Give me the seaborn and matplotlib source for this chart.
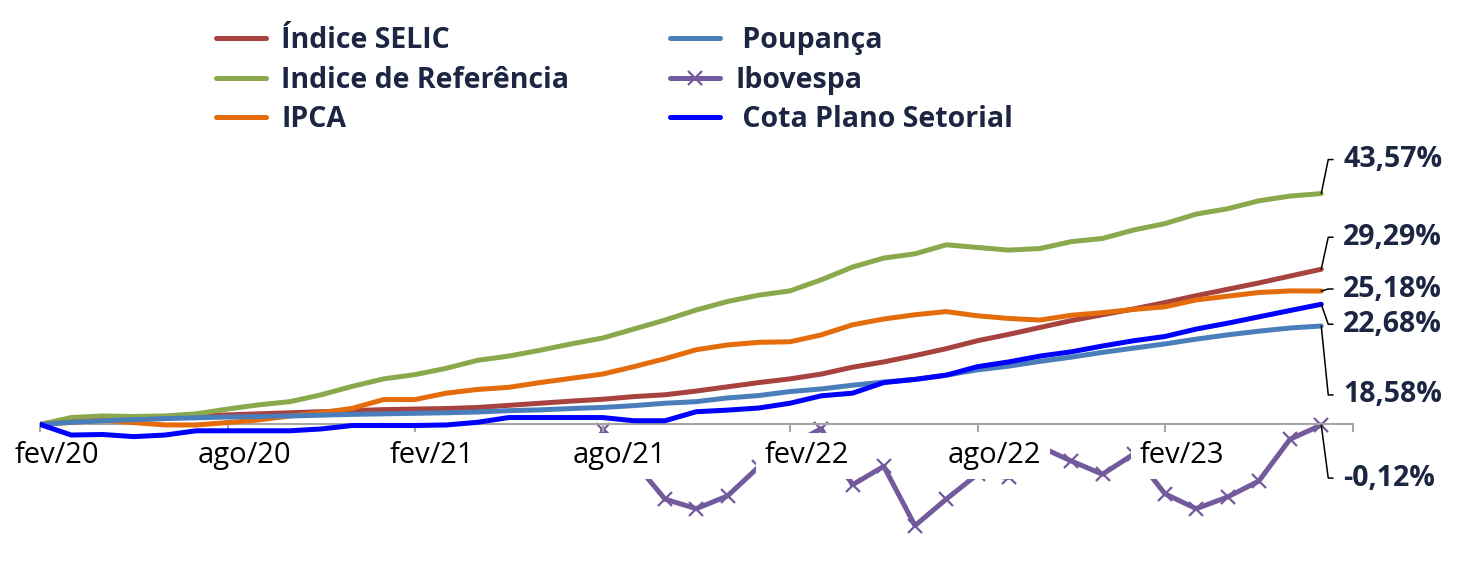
import math
import numpy as np
import pandas as pd
import matplotlib
matplotlib.use("Agg")
import matplotlib.pyplot as plt
from matplotlib.transforms import ScaledTranslation
import seaborn as sns

# ---------------- data ----------------
months = list(range(42))  # fev/20 .. jul/23
tick_pos = [0, 6, 12, 18, 24, 30, 36, 42]
tick_labels = ["fev/20", "ago/20", "fev/21", "ago/21", "fev/22", "ago/22", "fev/23", ""]

selic = [0.0, 0.5, 0.85, 1.2, 1.4, 1.6, 1.8, 2.0, 2.2, 2.4, 2.6, 2.8, 2.9, 3.0,
         3.2, 3.6, 4.0, 4.4, 4.75, 5.25, 5.6, 6.3, 7.1, 7.9, 8.6, 9.5, 10.8, 11.8,
         13.0, 14.3, 15.8, 17.0, 18.3, 19.6, 20.7, 21.8, 23.0, 24.3, 25.5, 26.7, 28.0, 29.29]
referencia = [0.0, 1.3, 1.6, 1.5, 1.6, 2.0, 2.9, 3.7, 4.3, 5.6, 7.2, 8.6, 9.4, 10.6,
              12.1, 12.9, 14.0, 15.2, 16.3, 18.0, 19.7, 21.6, 23.2, 24.4, 25.2, 27.3, 29.7, 31.4,
              32.2, 33.9, 33.4, 32.9, 33.2, 34.5, 35.1, 36.7, 37.9, 39.7, 40.7, 42.2, 43.1, 43.57]
ipca = [0.0, 0.4, 0.8, 0.35, -0.1, -0.1, 0.35, 0.85, 1.6, 2.2, 3.05, 4.7, 4.7, 5.9,
        6.6, 7.0, 7.9, 8.7, 9.5, 10.9, 12.4, 14.1, 15.0, 15.5, 15.6, 16.9, 18.8, 19.9,
        20.7, 21.3, 20.5, 20.0, 19.7, 20.6, 21.1, 21.7, 22.2, 23.5, 24.2, 24.9, 25.2, 25.18]
poupanca = [0.0, 0.4, 0.7, 0.9, 1.1, 1.25, 1.4, 1.5, 1.6, 1.75, 1.9, 2.0, 2.1, 2.2,
            2.35, 2.6, 2.75, 3.0, 3.2, 3.55, 4.0, 4.3, 5.0, 5.45, 6.2, 6.7, 7.4, 8.0,
            8.5, 9.3, 10.3, 11.0, 11.9, 12.7, 13.6, 14.4, 15.2, 16.1, 16.9, 17.6, 18.2, 18.58]
# Ibovespa: not visible before ago/21 in the reference -> left empty
ibovespa = [None] * 18 + [-1.0, -7.0, -14.1, -15.9, -13.5, -8.0, -4.0, -0.8, -11.4, -7.9,
                          -19.1, -14.1, -9.4, -10.0, -4.2, -6.9, -9.4, -5.6, -13.1, -15.9,
                          -13.7, -10.7, -2.8, -0.12]
cota = [0.0, -2.0, -1.9, -2.3, -2.0, -1.2, -1.2, -1.2, -1.2, -0.85, -0.2, -0.2, -0.2, -0.1,
        0.4, 1.3, 1.3, 1.3, 1.3, 0.7, 0.7, 2.4, 2.7, 3.1, 4.0, 5.4, 5.9, 7.9,
        8.5, 9.3, 10.9, 11.8, 12.9, 13.7, 14.8, 15.8, 16.6, 18.0, 19.1, 20.3, 21.5, 22.68]

series_names = ["Índice SELIC", "Indice de Referência", "IPCA",
                " Poupança", "Ibovespa", " Cota Plano Setorial"]
series_values = [selic, referencia, ipca, poupanca, ibovespa, cota]
colors = ["#A8423F", "#8AA84C", "#E46C0A", "#4A7EBB", "#735A9C", "#0000FF"]
# label offsets (pixels) of the end-value labels relative to the line end
label_dy_px = [32, 34, 2, -69, -53, -20]

TXT = "#1C2541"

# ---------------- figure ----------------
sns.set_theme(style="white")
plt.rcParams["font.family"] = ["Open Sans", "DejaVu Sans"]

W, H = 1457, 580
fig = plt.figure(figsize=(W / 100, H / 100), dpi=100)
fig.patch.set_facecolor("white")
ax = fig.add_axes([40 / W, 1 - 541 / H, (1352.5 - 40) / W, (541 - 180.7) / H])
ax.set_facecolor("white")

for name, vals, col in zip(series_names, series_values, colors):
    df = pd.DataFrame({"mes": months, "valor": pd.array(vals, dtype="Float64")})
    df = df.dropna().astype({"valor": float})
    n_before = len(ax.lines)
    if name == "Ibovespa":
        sns.lineplot(data=df, x="mes", y="valor", ax=ax, color=col, lw=3.6,
                     marker="x", markersize=10, markeredgewidth=1.6,
                     markeredgecolor=col, label=name,
                     solid_capstyle="round", solid_joinstyle="round")
        z = 1.0
    else:
        sns.lineplot(data=df, x="mes", y="valor", ax=ax, color=col, lw=3.6,
                     label=name,
                     solid_capstyle="round", solid_joinstyle="round")
        z = 3.0
    for ln in ax.lines[n_before:]:
        ln.set_zorder(z)

ax.set_xlim(0, 42)
ax.set_ylim(-22, 46)
ax.set_xlabel("")
ax.set_ylabel("")
ax.set_yticks([])

for s in ["left", "top", "right"]:
    ax.spines[s].set_visible(False)
ax.spines["bottom"].set_position(("data", 0))
ax.spines["bottom"].set_color("#A6A6A6")
ax.spines["bottom"].set_linewidth(1.5)
ax.spines["bottom"].set_zorder(2.5)
ax.xaxis.set_zorder(2.5)

ax.set_xticks(tick_pos)
ax.set_xticklabels(tick_labels, fontsize=21, color="black")
ax.tick_params(axis="x", direction="out", length=6, width=1.5,
               color="#A6A6A6", pad=6, bottom=True)
shift = ScaledTranslation(17 / 100, 0, fig.dpi_scale_trans)
for lbl in ax.get_xticklabels():
    lbl.set_bbox(dict(facecolor="white", edgecolor="none", pad=6))
    lbl.set_transform(lbl.get_transform() + shift)

# end-value labels with leader lines
for vals, dy in zip(series_values, label_dy_px):
    v = vals[-1]
    txt = f"{v:.2f}%".replace(".", ",")
    angB = math.degrees(math.atan2(dy, 7))
    ax.annotate(txt, xy=(months[-1], v), xycoords="data",
                xytext=(22 * 0.72, dy * 0.72), textcoords="offset points",
                ha="left", va="center", fontsize=20.5, fontweight="bold",
                color=TXT, annotation_clip=False, zorder=4,
                arrowprops=dict(arrowstyle="-", color="black", lw=1.1,
                                connectionstyle=f"angle,angleA=0,angleB={angB},rad=0",
                                shrinkA=5, shrinkB=0, relpos=(0, 0.5)))

handles, labels = ax.get_legend_handles_labels()
if ax.legend_:
    ax.legend_.remove()
leg = fig.legend(handles, labels, ncol=2, loc="upper left",
                 bbox_to_anchor=(216 / W, 1 - 26 / H), frameon=False,
                 borderpad=0, borderaxespad=0, handlelength=1.75,
                 handletextpad=0.55, labelspacing=0.37, columnspacing=3.53,
                 prop={"family": "Open Sans", "weight": "bold", "size": 20.5})
for t in leg.get_texts():
    t.set_color(TXT)

fig.savefig("out.png", dpi=100, facecolor="white")
